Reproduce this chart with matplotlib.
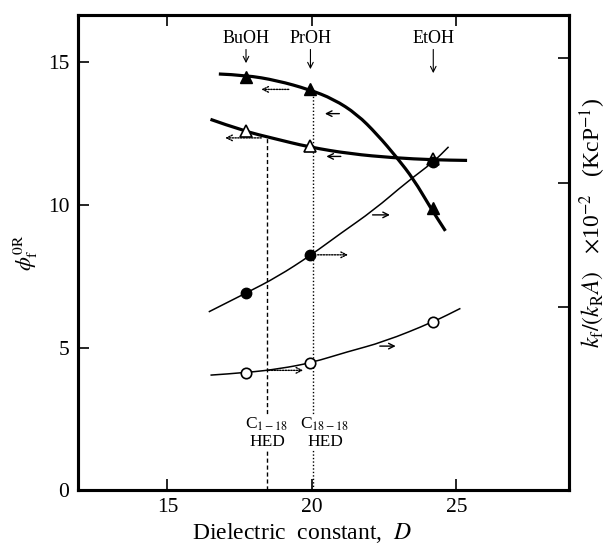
import matplotlib
matplotlib.use("Agg")
import matplotlib.pyplot as plt
from matplotlib.path import Path
from matplotlib.patches import PathPatch

plt.rcParams["font.family"] = ["Liberation Serif", "DejaVu Serif"]
plt.rcParams["mathtext.fontset"] = "stix"

# Solvents (dielectric constant D of the measured points)
solvents = ["BuOH", "PrOH", "EtOH"]
d_points = [17.72, 19.95, 24.2]

# phi_f^0R (left axis) - filled and open triangles
phi_filled = [14.5, 14.05, 9.9]
phi_open = [12.6, 12.05, 11.62]
# k_f/(k_R A) x 10^-2 (right axis) - filled and open circles
k_filled = [1.114, 1.418, 2.167]
k_open = [0.474, 0.553, 0.882]

# smooth curves
curve_phi_filled_d = [16.78, 17.70, 18.80, 19.89, 20.75, 21.56, 22.26, 22.95, 23.52, 24.10, 24.62]
curve_phi_filled_y = [14.59, 14.55, 14.36, 14.05, 13.71, 13.18, 12.47, 11.65, 10.90, 9.91, 9.09]
curve_phi_open_d = [16.49, 17.64, 18.68, 19.89, 21.33, 22.83, 24.21, 25.37]
curve_phi_open_y = [13.0, 12.59, 12.33, 12.03, 11.79, 11.65, 11.58, 11.56]
curve_k_filled_d = [16.43, 17.73, 18.80, 19.97, 20.99, 22.14, 23.29, 24.21, 24.73]
curve_k_filled_y = [0.962, 1.114, 1.243, 1.418, 1.592, 1.779, 2.006, 2.167, 2.288]
curve_k_open_d = [16.49, 17.76, 18.91, 19.98, 21.22, 22.49, 24.21, 25.14]
curve_k_open_y = [0.454, 0.474, 0.506, 0.553, 0.641, 0.721, 0.882, 0.990]

hed_d = [18.45, 20.03]
hed_labels = ["C$_{1-18}$\nHED", "C$_{18-18}$\nHED"]


def smooth_curve(axis, xs, ys, lw):
    # quadratic bezier through the read points (drawn in data coordinates)
    verts = [(xs[0], ys[0])]
    codes = [Path.MOVETO]
    for i in range(1, len(xs) - 1):
        verts += [(xs[i], ys[i]),
                  ((xs[i] + xs[i + 1]) / 2, (ys[i] + ys[i + 1]) / 2)]
        codes += [Path.CURVE3, Path.CURVE3]
    verts.append((xs[-1], ys[-1]))
    codes.append(Path.LINETO)
    patch = PathPatch(Path(verts, codes), facecolor="none", edgecolor="black",
                      lw=lw, capstyle="butt", zorder=3)
    axis.add_patch(patch)


fig = plt.figure(figsize=(6.08, 5.44), dpi=100)
ax = fig.add_axes([0.128, 0.099, 0.808, 0.873])
ax2 = ax.twinx()

# left-axis series (triangles, thick lines)
smooth_curve(ax, curve_phi_filled_d, curve_phi_filled_y, 2.3)
smooth_curve(ax, curve_phi_open_d, curve_phi_open_y, 2.3)
ax.plot(d_points, phi_filled, linestyle="none", marker="^", ms=8,
        mfc="black", mec="black", zorder=5)
ax.plot(d_points, phi_open, linestyle="none", marker="^", ms=8,
        mfc="white", mec="black", mew=1.2, zorder=5)

# right-axis series (circles, thin lines)
smooth_curve(ax2, curve_k_filled_d, curve_k_filled_y, 1.1)
smooth_curve(ax2, curve_k_open_d, curve_k_open_y, 1.1)
ax2.plot(d_points, k_filled, linestyle="none", marker="o", ms=7.5,
         mfc="black", mec="black", zorder=6)
ax2.plot(d_points, k_open, linestyle="none", marker="o", ms=7.5,
         mfc="white", mec="black", mew=1.2, zorder=6)

# vertical HED guide lines
ax.plot([hed_d[0], hed_d[0]], [0, 12.35], color="black", lw=1.0,
        linestyle=(0, (3, 2)), zorder=1)
ax.plot([hed_d[1], hed_d[1]], [0, 14.05], color="black", lw=1.0,
        linestyle=(0, (1, 1.5)), zorder=1)
for xpos, lab in zip([18.45, 20.45], hed_labels):
    ax.text(xpos, 2.0, lab, ha="center", va="center", fontsize=12.5,
            linespacing=1.05, zorder=4,
            bbox=dict(facecolor="white", edgecolor="none", pad=0))

# solvent labels with down arrows
arrow_top = [14.97, 14.76, 14.62]
for name, d, y_end in zip(solvents, d_points, arrow_top):
    ax.text(d, 15.55, name, ha="center", va="bottom", fontsize=13)
    ax.annotate("", xy=(d, y_end), xytext=(d, 15.45),
                arrowprops=dict(arrowstyle="->", lw=0.8, color="black",
                                shrinkA=0, shrinkB=0))

# dotted arrows showing which axis a series belongs to
dotted_arrows = [((19.2, 14.05), (18.25, 14.05)),
                 ((18.25, 12.35), (17.0, 12.35)),
                 ((20.2, 8.25), (21.25, 8.25)),
                 ((18.5, 4.2), (19.7, 4.2))]
for start, end in dotted_arrows:
    ax.annotate("", xy=end, xytext=start,
                arrowprops=dict(arrowstyle="->", lw=1.0, color="black",
                                linestyle=(0, (1, 1)), shrinkA=0, shrinkB=0))

solid_arrows = [((20.95, 13.2), (20.45, 13.2)),
                ((21.0, 11.7), (20.5, 11.7)),
                ((22.1, 9.65), (22.7, 9.65)),
                ((22.35, 5.05), (22.9, 5.05))]
for start, end in solid_arrows:
    ax.annotate("", xy=end, xytext=start,
                arrowprops=dict(arrowstyle="->", lw=1.0, color="black",
                                shrinkA=0, shrinkB=0))

ax.set_xlim(11.9, 28.9)
ax.set_ylim(0, 16.65)
ax2.set_ylim(-0.47, 3.345)
ax.set_xticks([15, 20, 25])
ax.set_yticks([0, 5, 10, 15])
ax2.set_yticks([1, 2, 3])
ax2.set_yticklabels([])

ax.tick_params(axis="both", direction="in", length=8, width=1.2,
               labelsize=15.5, top=True, pad=6)
ax2.tick_params(axis="y", direction="in", length=8, width=1.2)
for a in (ax, ax2):
    for s in a.spines.values():
        s.set_linewidth(2.2)

ax.set_xlabel("Dielectric  constant,  $D$", fontsize=17)
ax.xaxis.set_label_coords(0.456, -0.091)
ax.xaxis.label.set_verticalalignment("center")
ax.set_ylabel(r"$\phi_{\rm f}^{\rm 0R}$", fontsize=16, rotation=90, labelpad=6)
ax2.set_ylabel(r"$k_{\rm f}/(k_{\rm R}A)$   $\times$10$^{-2}$   (KcP$^{-1}$)",
               fontsize=17)
ax2.yaxis.set_label_coords(1.049, 0.562)
ax2.yaxis.label.set_verticalalignment("center")

fig.savefig("out.png", dpi=100)
